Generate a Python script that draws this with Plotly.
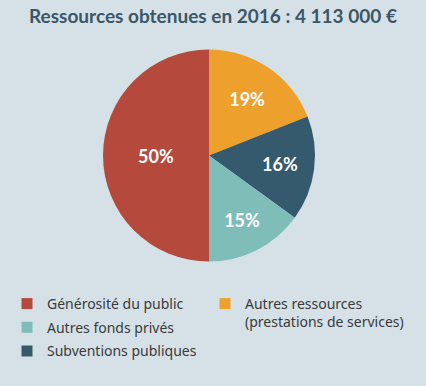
import plotly.graph_objects as go

labels = ["Autres ressources (prestations de services)", "Subventions publiques",
          "Autres fonds privés", "Générosité du public"]
values = [19, 16, 15, 50]
colors = ["#eea02c", "#355a6d", "#7fbdb8", "#b54a3c"]

legend1_labels = ["Générosité du public", "Autres fonds privés", "Subventions publiques"]
legend1_colors = ["#b54a3c", "#7fbdb8", "#355a6d"]
legend2_labels = ["Autres ressources<br>(prestations de services)"]
legend2_colors = ["#eea02c"]

W, H = 426, 386
cx, cy, r = 209, 155.5, 106
BG = "#d5e1e7"

fig = go.Figure()
fig.add_trace(go.Pie(
    labels=labels, values=values, sort=False, direction="clockwise", rotation=0,
    marker=dict(colors=colors, line=dict(width=0)),
    texttemplate="%{value}%", textposition="inside", insidetextorientation="horizontal",
    textfont=dict(family="Lato", size=18, color="white", weight="bold"),
    domain=dict(x=[(cx - r) / W, (cx + r) / W], y=[(H - cy - r) / H, (H - cy + r) / H]),
    showlegend=False, hoverinfo="skip",
))
for i, (lab, col) in enumerate(zip(legend1_labels, legend1_colors)):
    fig.add_trace(go.Scatter(x=[None], y=[None], mode="markers", name=lab,
                             legendgroup=f"g{i}",
                             marker=dict(symbol="square", size=11, color=col), legend="legend"))
for lab, col in zip(legend2_labels, legend2_colors):
    fig.add_trace(go.Scatter(x=[None], y=[None], mode="markers", name=lab,
                             marker=dict(symbol="square", size=11, color=col), legend="legend2"))

legend_font = dict(family="Noto Sans", size=14, color="#3a3a3a")
fig.update_layout(
    width=W, height=H,
    margin=dict(l=0, r=0, t=0, b=0),
    paper_bgcolor=BG, plot_bgcolor=BG,
    xaxis=dict(visible=False), yaxis=dict(visible=False),
    title=dict(text="<b>Ressources obtenues en 2016 : 4 113 000 €</b>",
               x=0.5, xanchor="center", y=1 - 16 / H, yanchor="middle",
               font=dict(family="Lato", size=19, color="#3b5767")),
    legend=dict(x=7 / W, y=1 - 288 / H, xanchor="left", yanchor="top",
                bgcolor="rgba(0,0,0,0)", font=legend_font, itemwidth=30,
                tracegroupgap=2.5, traceorder="grouped"),
    legend2=dict(x=205 / W, y=1 - 288 / H, xanchor="left", yanchor="top",
                 bgcolor="rgba(0,0,0,0)", font=legend_font, itemwidth=30, valign="top"),
)
fig.write_html("out.html", config={"displayModeBar": False},
               post_script=f"document.body.style.margin='0';document.body.style.background='{BG}';")
